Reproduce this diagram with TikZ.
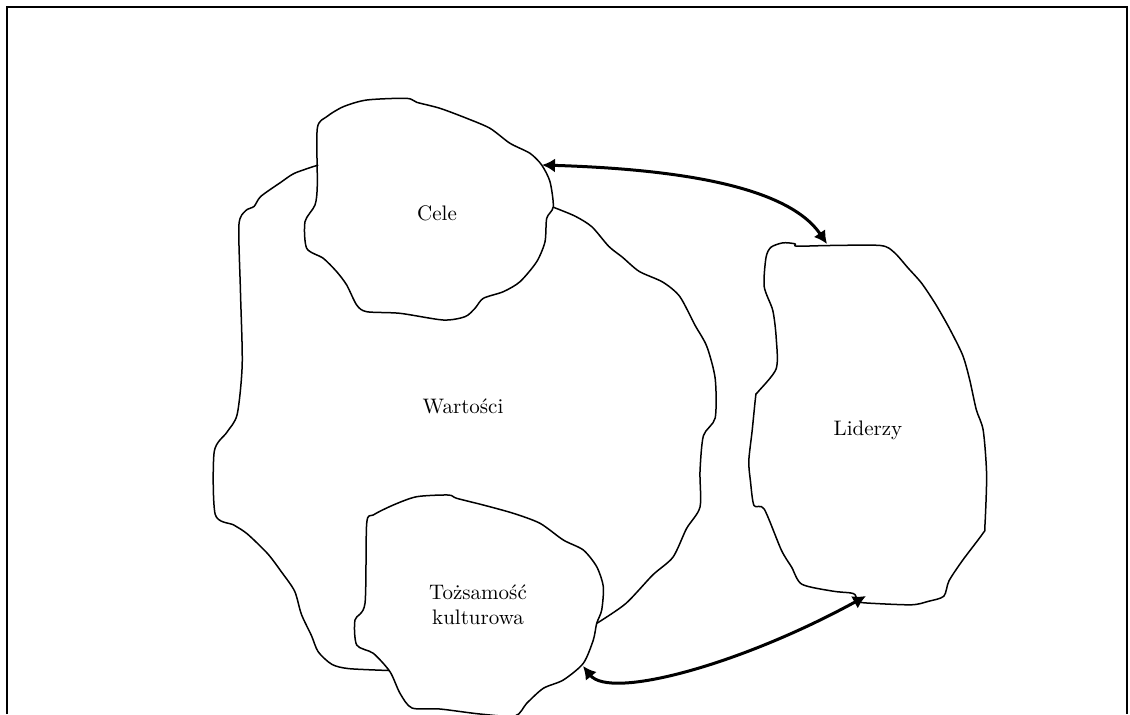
\documentclass[tikz,border=0pt]{standalone}
\usetikzlibrary{arrows.meta}
\tikzset{
    blob/.style={draw=black, line width=0.75pt, line join=round},
    label/.style={font=\fontsize{10.5}{12.5}\selectfont, align=center}
}

\begin{document}
\begin{tikzpicture}[x=0.5pt, y=-0.5pt, >={Latex[length=6.5pt,width=7pt]}]
        \useasboundingbox (0,0) rectangle (1130,714);
        % frame (open at the bottom)
        \draw[line width=1pt] (7,714) -- (7,7) -- (1127,7) -- (1127,714);

        % Wartosci, left and right parts behind the small blobs
        \draw[blob] plot[smooth, tension=0.45] coordinates {
            (318.2,165) (294.6,173.2) (281.1,182.1) (260.8,196.4) (254.1,206.4)
            (245.6,210.7) (238.9,225) (240.5,292.9) (242.2,364.3) (237.2,414.3)
            (227,432.1) (214.2,451.8) (215.2,514.3) (233.8,525) (247.3,533.9)
            (267.6,553.6) (281.1,571.4) (294.6,591.1) (301.4,614.3) (311.5,635.7)
            (318.2,651.8) (331.8,664.3) (348.6,668.6) (389,670.5)};
        \draw[blob] plot[smooth, tension=0.45] coordinates {
            (553,207.1) (575,216.1) (591.9,226.8) (608.8,246.4) (622.3,257.1)
            (639.2,271.4) (662.8,282.1) (679.7,296.4) (694.9,325) (706.8,346.4)
            (715.2,378.6) (715.2,417.9) (703.4,435.7) (700,471.4) (700,507.1)
            (686.5,528.6) (673,557.1) (652.7,575) (625.7,603.6) (597,623.2)};

        % Cele
        \draw[blob] plot[smooth cycle, tension=0.45] coordinates {
            (317.3,128.3) (326.7,116.7) (343.3,106.7) (366.7,100) (406.7,98.3)
            (416.7,102.3) (440,108.3) (466.7,118.3) (490,128.3) (510,143.3)
            (530,153.3) (541.7,165) (550,181.7) (553.3,206.7) (546.7,218.3)
            (545,241.7) (536.7,261.7) (520,281.7) (503.3,291.7) (483.3,298.3)
            (475,308.3) (465,316.7) (443.3,320) (400,313.3) (366.7,311.7)
            (356.7,305) (346.7,285) (336.7,271.7) (323.3,258.3) (306.7,248.3)
            (305,221.7) (315,205) (317.3,185)};

        % Tozsamosc kulturowa
        \draw[blob] plot[smooth cycle, tension=0.45] coordinates {
            (366.7,523.3) (373.3,515) (393.3,505) (416.7,496.7) (448.3,495)
            (456.7,498.3) (483.3,505) (513.3,513.3) (540,523.3) (563.3,540)
            (583.3,550) (596.7,566.7) (603.3,586.7) (601.7,610) (596.7,623.3)
            (593.3,640) (583.3,663.3) (563.3,680) (543.3,688.3) (526.7,703.3)
            (515,716) (480,714) (440,709) (412,708) (400,693.3) (390,671.7)
            (373.3,653.3) (356.7,645) (355,620) (365,603.3)};

        % Liderzy
        \draw[blob] plot[smooth cycle, tension=0.45] coordinates {
            (771,247.2) (783,242.8) (795,243.8) (796.7,246.2) (829.2,245.5)
            (880.5,245.5) (894.2,252.4) (907.9,267.8) (921.6,283.2) (935.3,303.7)
            (949,327.6) (962.6,355) (969.5,379) (976.3,409.7) (983.2,430.3)
            (986.6,474.7) (984.9,526.1) (983.2,532.9) (962.6,560.3) (949,580.8)
            (943.8,596.2) (928.4,601.3) (911.3,604.8) (866.8,603) (858.3,601.3)
            (854.9,594.5) (849.7,592.8) (832.6,591.1) (801.8,584.2) (791.6,567.1)
            (781.3,550) (764.2,509) (754,505.5) (750.5,481.6) (748.8,461)
            (752.2,430.3) (755.7,396.1) (757.4,392.6) (776.2,368.7) (776.2,337.9)
            (772.8,310.5) (764.2,286.6) (766,257.5)};

        \begin{scope}[every node/.style={label}]
            \node (cele) at (437, 213) {Cele};
            \node (wart) at (463, 406) {Wartości};
            \node (toz) at (478, 605) {Tożsamość\\kulturowa};
            \node (lid) at (868, 430) {Liderzy};
        \end{scope}

        % arrow ends on the outlines
        \coordinate (celeE) at (542, 165);
        \coordinate (lidN) at (827, 244);
        \coordinate (tozE) at (583, 666);
        \coordinate (lidS) at (866, 596);

        \draw [<->, line width=1.5pt] (celeE) .. controls (673,169) and (787,185) .. (lidN);
        \draw [<->, line width=1.5pt] (tozE) .. controls (610,700) and (740,665) .. (lidS);
    \end{tikzpicture}
\end{document}
